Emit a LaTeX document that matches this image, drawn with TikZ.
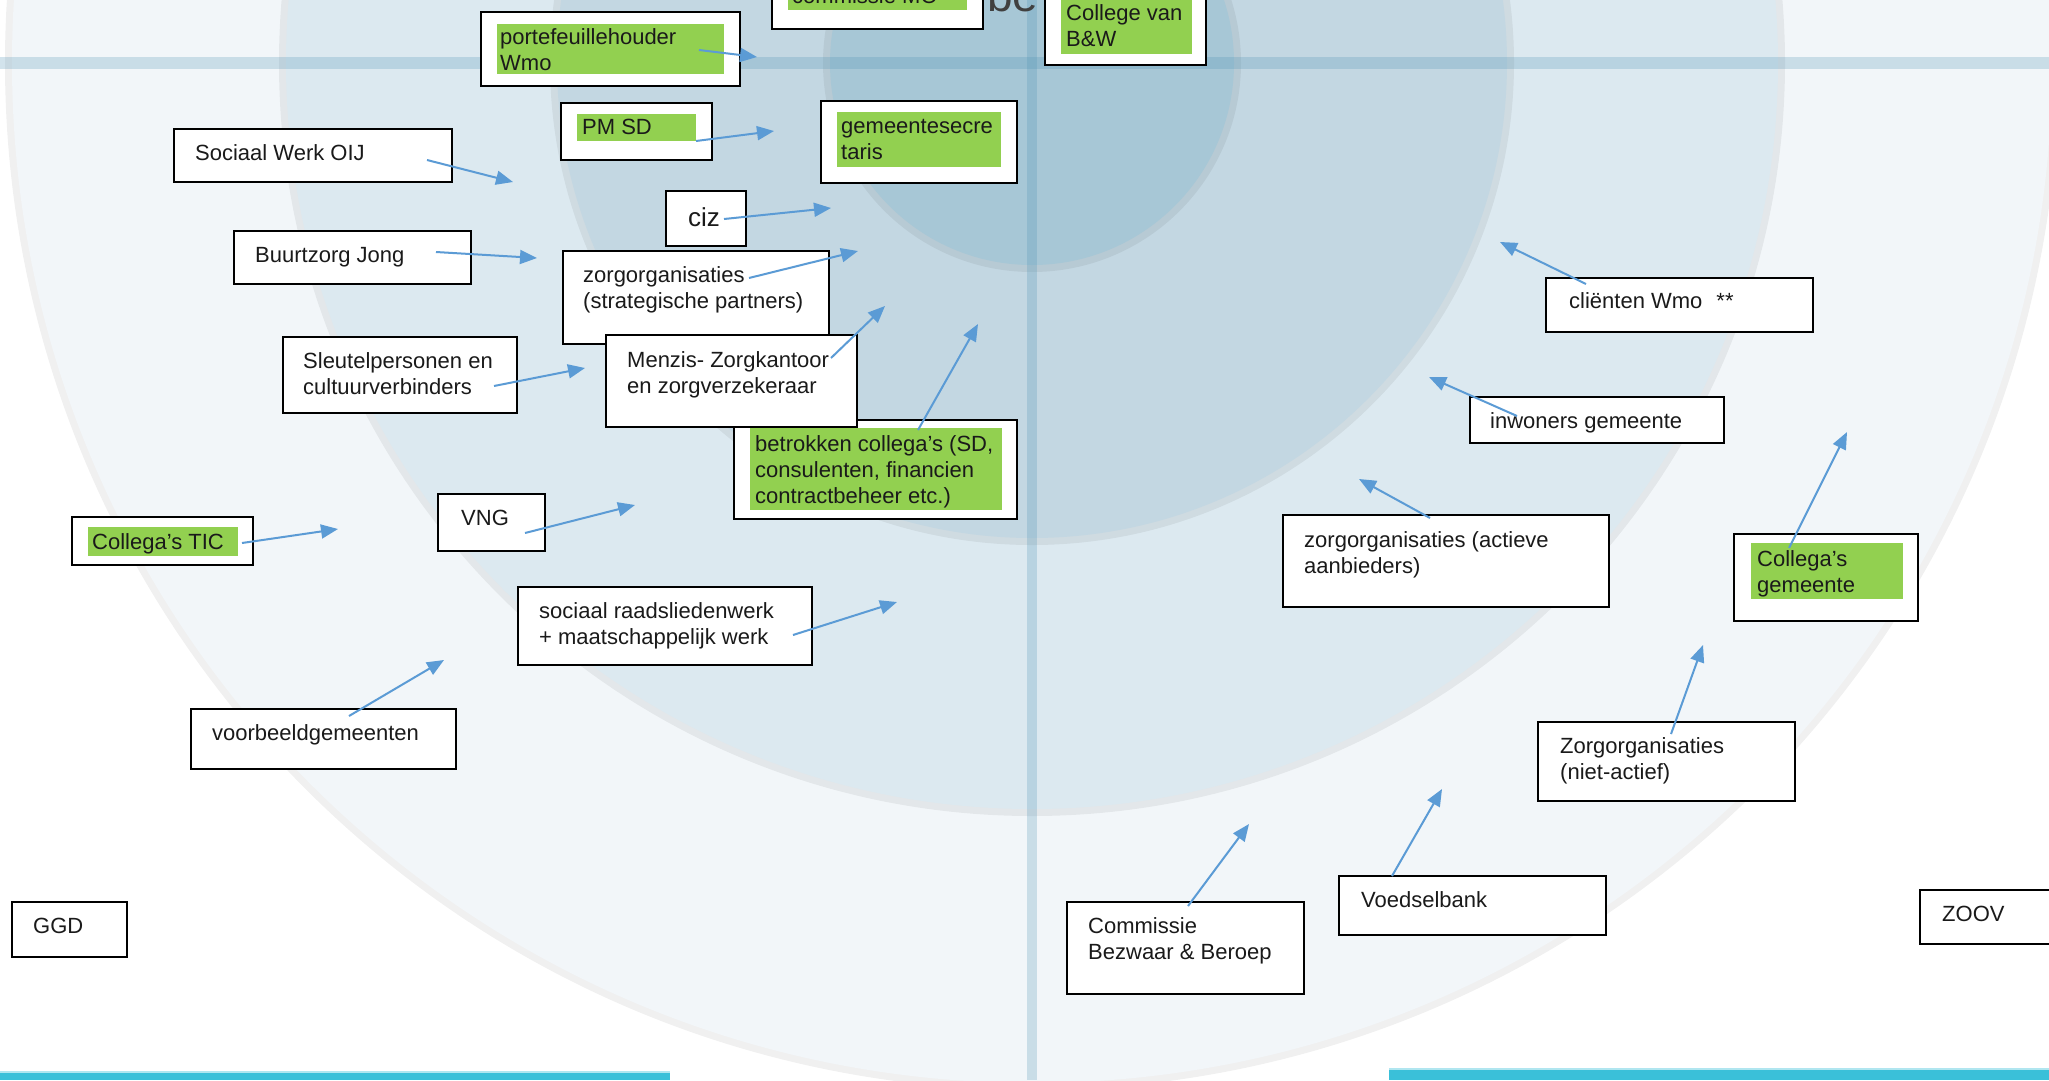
\documentclass[tikz,border=0pt]{standalone}
\usepackage{fontspec}
\setmainfont{Liberation Sans}
\usetikzlibrary{arrows.meta}
\definecolor{grn}{HTML}{92D050}
\definecolor{arrc}{HTML}{5B9BD5}
\definecolor{cfour}{HTML}{F2F6F9}
\definecolor{cthree}{HTML}{DCE9F0}
\definecolor{ctwo}{HTML}{C3D7E2}
\definecolor{cone}{HTML}{A7C7D6}
\definecolor{bandc}{HTML}{4F93B5}
\definecolor{cyanbar}{HTML}{3AC0D9}
\definecolor{txtc}{HTML}{1A1A1A}
\definecolor{titlec}{HTML}{404040}
\tikzset{
  boxst/.style={draw=black, line width=1.8pt, fill=white, inner sep=0pt, outer sep=0pt, rectangle},
  txtst/.style={font=\fontsize{22}{26}\selectfont, text=txtc, inner sep=0pt, anchor=north west, align=left},
  arrst/.style={draw=arrc, line width=2pt, -{Triangle[length=17pt,width=14pt]}},
  ringst/.style={fill=black, opacity=0.06},
}
\newcommand\bx[5]{\node[boxst, minimum width={(#4)-(#2)}, minimum height={(#5)-(#3)}] (#1) at ({(#2+#4)/2},{(#3+#5)/2}) {};}
\newcommand\gr[4]{\fill[grn] (#1,#2) rectangle (#3,#4);}
\newcommand\tx[4]{\node[txtst] (#1) at (#2,{#3-18.2}) {\strut #4};}
\newcommand\arw[5]{\coordinate (#1-s) at (#2,#3); \coordinate (#1-e) at (#4,#5); \draw[arrst] (#1-s) -- (#1-e);}
\begin{document}
\begin{tikzpicture}[x=1pt,y=-1pt]
\useasboundingbox (0,0) rectangle (2049,1080);
\clip (0,0) rectangle (2049,1080);
\fill[white] (0,0) rectangle (2049,1080);
% concentric bands
\fill[ringst] (1032,63) circle[radius=1027pt];
\fill[cfour] (1032,63) circle[radius=1020pt];
\fill[ringst] (1032,63) circle[radius=753pt];
\fill[cthree] (1032,63) circle[radius=746pt];
\fill[ringst] (1032,63) circle[radius=482pt];
\fill[ctwo] (1032,63) circle[radius=475pt];
\fill[ringst] (1032,63) circle[radius=209pt];
\fill[cone] (1032,63) circle[radius=202pt];
% axes bands
\fill[bandc, opacity=0.25] (0,57) rectangle (2049,69);
\fill[bandc, opacity=0.25] (1027,0) rectangle (1037,1080);
% bottom bars
\fill[cyanbar!40] (0,1071) rectangle (670,1073);
\fill[cyanbar] (0,1073) rectangle (670,1080);
\fill[cyanbar!40] (1389,1068) rectangle (2049,1070);
\fill[cyanbar] (1389,1070) rectangle (2049,1080);
% title fragment
\node[font=\fontsize{46}{50}\selectfont, text=titlec, anchor=base west, inner sep=0pt] (title) at (987,11) {be};
% top boxes
\bx{cmo}{772}{-30}{983}{29} \gr{788}{-20}{967}{10} \tx{cmo-t}{792}{3}{commissie MO}
\bx{cbw}{1045}{-15}{1206}{65} \gr{1061}{-15}{1192}{54} \tx{cbw-t}{1066}{20}{College van\\B\&W}
% left side
\bx{portef}{481}{12}{740}{86} \gr{497}{24}{724}{74} \tx{portef-t}{500}{44}{portefeuillehouder\\Wmo}
\bx{pmsd}{561}{103}{712}{160} \gr{577}{114}{696}{141} \tx{pmsd-t}{582}{134}{PM SD}
\bx{gsec}{821}{101}{1017}{183} \gr{837}{112}{1001}{167} \tx{gsec-t}{841}{133}{gemeentesecre\\taris}
\bx{sow}{174}{129}{452}{182} \tx{sow-t}{195}{160}{Sociaal Werk OIJ}
\bx{ciz}{666}{191}{746}{246}
\node[txtst, font=\fontsize{26}{30}\selectfont] (ciz-t) at (688,{226-21}) {\strut ciz};
\bx{bzj}{234}{231}{471}{284} \tx{bzj-t}{255}{262}{Buurtzorg Jong}
\bx{zstr}{563}{251}{829}{344} \tx{zstr-t}{583}{282}{zorgorganisaties\\(strategische partners)}
\bx{betr}{734}{420}{1017}{519} \gr{750}{428}{1002}{510} \tx{betr-t}{755}{451}{betrokken collega's (SD,\\consulenten, financien\\contractbeheer etc.)}
\bx{menz}{606}{335}{857}{427} \tx{menz-t}{627}{367}{Menzis- Zorgkantoor\\en zorgverzekeraar}
\bx{sleu}{283}{337}{517}{413} \tx{sleu-t}{303}{368}{Sleutelpersonen en\\cultuurverbinders}
\bx{vng}{438}{494}{545}{551} \tx{vng-t}{461}{525}{VNG}
\bx{tic}{72}{517}{253}{565} \gr{88}{527}{238}{556} \tx{tic-t}{92}{549}{Collega's TIC}
\bx{srw}{518}{587}{812}{665} \tx{srw-t}{539}{618}{sociaal raadsliedenwerk\\+ maatschappelijk werk}
\bx{vbg}{191}{709}{456}{769} \tx{vbg-t}{212}{740}{voorbeeldgemeenten}
\bx{ggd}{12}{902}{127}{957} \tx{ggd-t}{33}{933}{GGD}
% right side
\bx{cli}{1546}{278}{1813}{332} \tx{cli-t}{1569}{308}{cliënten Wmo\hspace{14pt}**}
\bx{inw}{1470}{397}{1724}{443} \tx{inw-t}{1490}{428}{inwoners gemeente}
\bx{zact}{1283}{515}{1609}{607} \tx{zact-t}{1304}{547}{zorgorganisaties (actieve\\aanbieders)}
\bx{cgem}{1734}{534}{1918}{621} \gr{1751}{543}{1903}{599} \tx{cgem-t}{1757}{566}{Collega's\\gemeente}
\bx{znac}{1538}{722}{1795}{801} \tx{znac-t}{1560}{753}{Zorgorganisaties\\(niet-actief)}
\bx{cbb}{1067}{902}{1304}{994} \tx{cbb-t}{1088}{933}{Commissie\\Bezwaar \& Beroep}
\bx{vdb}{1339}{876}{1606}{935} \tx{vdb-t}{1361}{907}{Voedselbank}
\bx{zoov}{1920}{890}{2060}{944} \tx{zoov-t}{1942}{921}{ZOOV}
% arrows
\arw{aportef}{699}{50}{757}{57}
\arw{apmsd}{696}{141}{774}{131}
\arw{asow}{427}{160}{513}{182}
\arw{aciz}{724}{219}{831}{208}
\arw{abzj}{436}{252}{537}{258}
\arw{azstr}{749}{278}{858}{251}
\arw{amenz}{831}{358}{885}{306}
\arw{abetr}{918}{430}{978}{324}
\arw{asleu}{494}{386}{585}{368}
\arw{atic}{242}{543}{338}{529}
\arw{avng}{525}{533}{635}{505}
\arw{asrw}{793}{635}{897}{602}
\arw{avbg}{349}{716}{444}{660}
\arw{acli}{1586}{284}{1500}{242}
\arw{ainw}{1517}{416}{1429}{377}
\arw{azact}{1430}{518}{1359}{479}
\arw{acgem}{1789}{548}{1847}{432}
\arw{aznac}{1671}{734}{1703}{645}
\arw{avdb}{1392}{876}{1442}{789}
\arw{acbb}{1188}{906}{1249}{824}
\end{tikzpicture}
\end{document}
